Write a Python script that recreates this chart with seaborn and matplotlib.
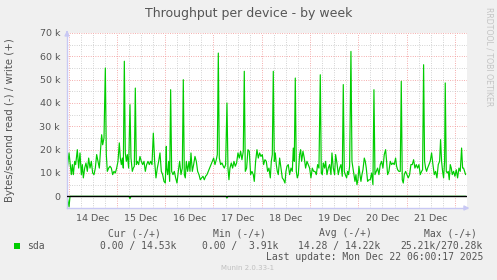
import matplotlib
matplotlib.use("Agg")
import matplotlib.pyplot as plt
import matplotlib.dates as mdates
from matplotlib.ticker import FuncFormatter, MultipleLocator
import seaborn as sns
import pandas as pd
import numpy as np

# ---------------- data ----------------
start_time = "2025-12-13 23:12"
# write (+) series: hours since start, value in kB/s
write_hours = [
    0.0, 1.0, 2.15, 2.65, 3.15, 3.81, 4.31, 5.13, 5.80, 6.46, 7.12, 7.62, 8.12, 8.78, 9.44,
    10.1, 10.77, 11.43, 12.09, 12.75, 13.42, 14.08, 14.74, 15.40, 16.07, 16.73, 17.23, 17.72,
    18.39, 19.05, 19.54, 20.04, 20.70, 21.37, 22.03, 22.69, 23.35, 24.02, 24.68, 25.34, 26.00,
    26.50, 27.00, 27.49, 27.99, 28.49, 28.98, 29.48, 29.98, 30.64, 31.30, 31.80, 32.46, 32.96,
    33.46, 33.95, 34.45, 34.95, 35.61, 36.27, 36.93, 37.60, 38.26, 38.92, 39.58, 40.25, 40.91,
    41.57, 42.24, 42.90, 43.56, 44.22, 44.89, 45.55, 46.21, 46.87, 47.54, 48.20, 48.86, 49.36,
    49.52, 50.02, 50.52, 51.02, 51.51, 52.01, 52.67, 53.33, 54.00, 54.66, 55.32, 55.98, 56.65,
    57.31, 57.80, 58.30, 58.80, 59.30, 59.96, 60.62, 61.12, 61.61, 62.28, 62.94, 63.60, 64.26,
    64.93, 65.59, 66.25, 66.92, 67.58, 68.24, 68.90, 69.57, 70.23, 70.89, 71.55, 72.22, 72.88,
    73.54, 74.20, 74.70, 75.20, 75.70, 76.36, 77.02, 77.68, 78.18, 78.84, 79.50, 80.00, 80.49,
    80.99, 81.65, 82.32, 82.98, 83.64, 84.30, 84.97, 85.63, 86.29, 86.95, 87.62, 88.11, 88.61,
    89.27, 89.94, 90.60, 91.26, 91.92, 92.59, 93.08, 93.74, 94.41, 95.07, 95.73, 96.39, 97.06,
    97.72, 98.38, 99.04, 99.71, 100.37,
    101.04, 101.54, 102.03, 102.53, 103.03, 103.52, 104.02, 104.52, 105.01, 105.68, 106.34,
    107.00, 107.66, 108.33, 108.82, 109.32, 109.98, 110.64, 111.31, 111.97, 112.47, 112.96,
    113.46, 113.96, 114.45, 114.95, 115.61, 116.11, 116.61, 117.27, 117.93, 118.59, 119.26,
    119.92, 120.58, 121.24, 121.91, 122.57, 123.23, 123.90, 124.56, 125.22, 125.88, 126.38,
    126.88, 127.37, 128.04, 128.53, 129.20, 129.86, 130.52, 131.18, 131.68, 132.34, 133.01,
    133.50, 134.16, 134.83, 135.49, 136.15, 136.81, 137.31, 137.81, 138.30, 138.97, 139.46,
    139.96, 140.46, 141.12, 141.62, 142.11, 142.61, 143.11, 143.60, 144.10, 144.60, 145.10,
    145.59, 146.09, 146.59, 147.09, 147.75, 148.24, 148.74, 149.40, 150.06,
    150.72, 151.39, 152.05, 152.55, 153.05, 153.71, 154.37, 155.03, 155.69, 156.36, 157.02,
    157.68, 158.35, 158.84, 159.34, 160.00, 160.66, 161.33, 161.99, 162.65, 163.31, 163.81,
    164.31, 164.97, 165.63, 166.13, 166.63, 167.12, 167.62, 168.28, 168.95, 169.61, 170.27,
    170.93, 171.60, 172.26, 172.92, 173.58, 174.25, 174.91, 175.57, 176.23, 176.73, 177.23,
    177.72, 178.22, 178.72, 179.21, 179.88, 180.54, 181.20, 181.87, 182.53, 183.19, 183.85,
    184.52, 185.18, 185.67, 186.17, 186.67, 187.17, 187.66, 187.99, 188.49, 188.99, 189.48,
    189.98, 190.48, 190.98, 191.47, 192.14, 192.80, 193.46, 194.12, 194.79, 195.45, 196.11,
    196.61, 197.10, 197.60, 198.10,
]
write_kb = [
    10.7, 18.6, 9.3, 13.6, 9.3, 15.0, 13.6, 20.0, 12.1, 18.6, 9.3, 13.6, 7.9, 12.1, 14.3,
    10.7, 16.4, 12.1, 15.0, 10.0, 9.3, 12.1, 17.9, 15.0, 12.1, 20.7, 26.4, 22.1,
    25.0, 55.0, 17.9, 10.7, 12.1, 12.9, 12.1, 9.3, 10.7, 10.0, 12.1, 15.0, 22.9,
    16.4, 13.6, 16.4, 12.1, 57.9, 18.6, 15.0, 17.9, 12.1, 39.3, 16.4, 10.7, 12.1,
    12.9, 46.4, 13.6, 15.0, 13.6, 17.1, 15.0, 13.6, 15.0, 10.7, 13.6, 15.0, 13.6,
    15.0, 13.6, 27.1, 15.0, 7.9, 12.1, 15.0, 18.6, 10.7, 9.3, 6.4, 5.7, 21.4,
    12.1, 9.3, 15.0, 6.4, 45.7, 10.7, 9.3, 10.7, 7.9, 5.7, 10.7, 15.0, 9.3,
    12.1, 50.0, 9.3, 7.9, 15.0, 10.7, 15.0, 10.7, 18.6, 10.7, 13.6, 17.1, 15.0,
    10.7, 9.3, 7.1, 7.9, 8.6, 7.1, 8.6, 9.3, 10.7, 12.1, 13.6, 15.0, 16.4,
    13.6, 15.7, 17.9, 61.4, 16.4, 13.6, 14.3, 12.9, 12.1, 13.6, 40.0, 12.1, 7.1,
    12.1, 14.3, 12.1, 15.0, 12.9, 14.3, 18.6, 16.4, 19.3, 15.7, 19.3, 53.6, 10.7,
    12.1, 20.0, 19.3, 9.3, 10.7, 9.3, 6.4, 15.0, 20.0, 16.4, 18.6, 17.1, 17.9,
    13.6, 15.7, 15.0, 10.7, 12.1,
    7.9, 15.0, 17.9, 53.6, 15.0, 18.6, 13.6, 10.7, 9.3, 16.4, 12.1,
    7.9, 7.1, 5.7, 10.7, 12.9, 13.6, 9.3, 12.1, 10.7, 20.7, 15.0,
    50.7, 10.7, 7.9, 9.3, 17.9, 20.0, 15.0, 19.3, 16.4, 12.1, 15.0,
    13.6, 12.1, 7.9, 12.1, 10.7, 10.7, 9.3, 13.6, 12.1, 52.1, 10.0,
    9.3, 14.3, 12.1, 15.0, 9.3, 12.1, 13.6, 9.3, 18.6, 12.1, 9.3,
    17.9, 14.3, 9.3, 12.1, 13.6, 8.6, 47.9, 10.7, 9.3, 7.9, 10.7,
    9.3, 12.9, 62.1, 15.0, 12.1, 9.3, 6.4, 9.3, 5.0, 7.1, 12.9,
    9.3, 6.4, 9.3, 11.4, 16.4, 15.0, 12.1, 6.4, 7.1,
    7.1, 10.0, 5.0, 45.7, 9.3, 10.7, 12.1, 9.3, 13.6, 15.0, 12.1,
    17.9, 20.0, 15.0, 9.3, 10.7, 15.0, 13.6, 14.3, 13.6, 16.4, 12.9,
    11.4, 10.7, 10.7, 49.3, 7.1, 5.7, 9.3, 10.7, 9.3, 7.9, 9.3,
    13.6, 13.6, 15.7, 12.1, 13.6, 12.1, 13.6, 9.3, 10.7, 11.4, 56.4,
    15.0, 12.1, 10.7, 12.1, 13.6, 15.0, 18.6, 13.6, 9.3, 10.7, 7.9,
    13.6, 15.0, 24.3, 15.0, 10.7, 7.9, 15.0, 48.6, 10.7, 10.0, 10.7,
    7.1, 13.6, 12.1, 9.3, 10.7, 8.6, 11.4, 7.9, 12.1, 10.7, 20.7,
    12.1, 12.1, 10.7, 9.3,
]
# read (-) series, drawn below zero
read_hours = [0.0, 0.5, 1.0, 1.5, 2.0, 30.8, 31.3, 31.8, 79.0, 79.5, 80.0, 198.1]
read_kb = [0.0, -2.0, -4.5, 0.0, 0.0, 0.0, -1.0, 0.0, 0.0, -0.7, 0.0, 0.0]

y_ticks_kb = [0, 10, 20, 30, 40, 50, 60, 70]
y_tick_labels = ["0", "10 k", "20 k", "30 k", "40 k", "50 k", "60 k", "70 k"]

title = "Throughput per device - by week"
ylabel = "Bytes/second read (-) / write (+)"
legend_name = "sda"
col_headers = ["Cur (-/+)", "Min (-/+)", "Avg (-/+)", "Max (-/+)"]
col_values = ["0.00 / 14.53k", "0.00 /  3.91k", "14.28 / 14.22k", "25.21k/270.28k"]
last_update = "Last update: Mon Dec 22 06:00:17 2025"
footer = "Munin 2.0.33-1"
side_text = "RRDTOOL / TOBI OETIKER"
end_time = "2025-12-22 06:00"

# ---------------- build frames ----------------
t0 = pd.Timestamp(start_time)
write_df = pd.DataFrame({
    "time": t0 + pd.to_timedelta(write_hours, unit="h"),
    "value": np.array(write_kb) * 1000.0,
})
read_df = pd.DataFrame({
    "time": t0 + pd.to_timedelta(read_hours, unit="h"),
    "value": np.array(read_kb) * 1000.0,
})

sns.set_theme(style="white")
plt.rcParams["font.family"] = ["DejaVu Sans"]

W, H = 497, 280
BG = "#f0f0f0"
TXT = "#555555"
GREEN = "#00cc00"
AXIS = "#c8c8f4"

fig = plt.figure(figsize=(W / 100, H / 100), dpi=100, facecolor=BG)
ax = fig.add_axes([67 / W, (H - 208) / H, 400 / W, 175 / H])
ax.set_facecolor("white")

sns.lineplot(data=read_df, x="time", y="value", ax=ax, color=GREEN, linewidth=0.85,
             estimator=None, sort=False, legend=False)
sns.lineplot(data=write_df, x="time", y="value", ax=ax, color=GREEN, linewidth=0.85,
             estimator=None, sort=False, legend=False)
ax.axhline(0, color="black", linewidth=1.0, zorder=3)

ax.set_xlim(t0, pd.Timestamp(end_time))
ax.set_ylim(-5000, 70000)

# y axis
ax.set_yticks([v * 1000 for v in y_ticks_kb])
ax.set_yticklabels(y_tick_labels)
ax.yaxis.set_minor_locator(MultipleLocator(5000))

# x axis: midnight major (red grid), 6h minor (gray grid) with noon labels
ax.xaxis.set_major_locator(mdates.DayLocator())
ax.xaxis.set_major_formatter(FuncFormatter(lambda x, p: ""))
ax.xaxis.set_minor_locator(mdates.HourLocator(byhour=[6, 12, 18]))

def _minor_fmt(x, pos):
    d = mdates.num2date(x)
    return f"{d.day} Dec" if d.hour == 12 else ""

ax.xaxis.set_minor_formatter(FuncFormatter(_minor_fmt))

dots = (0, (0.8, 1.6))
ax.grid(which="minor", color="#c8c8c8", linestyle=dots, linewidth=0.7)
ax.grid(which="major", color="#f29a9a", linestyle=dots, linewidth=0.7)
ax.set_axisbelow(True)

ax.tick_params(axis="y", which="major", labelsize=6.8, labelcolor=TXT, length=2,
               color=AXIS, pad=3)
ax.tick_params(axis="y", which="minor", length=0)
ax.tick_params(axis="x", which="major", length=3, color="#f29a9a", direction="out")
ax.tick_params(axis="x", which="minor", length=0, labelsize=6.8, labelcolor=TXT, pad=4)
ax.set_xlabel("")
ax.set_ylabel("")

for s in ["top", "right"]:
    ax.spines[s].set_visible(False)
for s in ["left", "bottom"]:
    ax.spines[s].set_color(AXIS)
    ax.spines[s].set_linewidth(1.0)

# axis arrows
ax.annotate("", xy=(1.013, 0), xytext=(0.99, 0), xycoords="axes fraction",
            arrowprops=dict(arrowstyle="-|>", color=AXIS, lw=1.0, mutation_scale=7),
            annotation_clip=False)
ax.annotate("", xy=(0, 1.03), xytext=(0, 0.99), xycoords="axes fraction",
            arrowprops=dict(arrowstyle="-|>", color=AXIS, lw=1.0, mutation_scale=7),
            annotation_clip=False)

def ftext(x, y, s, **kw):
    fig.text(x / W, 1 - y / H, s, **kw)

ftext(248.5, 14, title, ha="center", va="center", fontsize=9, color=TXT)
ftext(10.5, 120, ylabel, ha="center", va="center", rotation=90, fontsize=7.3, color=TXT)
ftext(489, 57, side_text, ha="center", va="center", rotation=270, fontsize=5.6, color="#c4c4c4")

mono = "DejaVu Sans Mono"
header_x = [134, 239.5, 345, 450]
for hx, hs in zip(header_x, col_headers):
    ftext(hx, 233, hs, ha="center", va="center", fontsize=7, color=TXT, family=mono)
value_x = [100, 202, 298, 400]
for vx, vs in zip(value_x, col_values):
    ftext(vx, 246, vs, ha="left", va="center", fontsize=7, color=TXT, family=mono)
ftext(27, 246, legend_name, ha="left", va="center", fontsize=7, color=TXT, family=mono)
fig.patches.append(plt.Rectangle((14 / W, 1 - 248.5 / H), 6 / W, 6 / H,
                                 transform=fig.transFigure, facecolor=GREEN,
                                 edgecolor="none"))
ftext(483, 257.5, last_update, ha="right", va="center", fontsize=7, color=TXT, family=mono)
ftext(248, 268.5, footer, ha="center", va="center", fontsize=5, color="#c0c0c0")

fig.savefig("out.png", dpi=100, facecolor=BG)
